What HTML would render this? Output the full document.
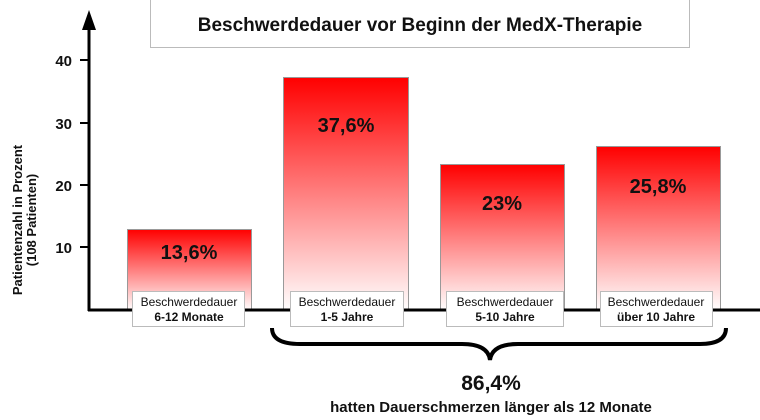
<!DOCTYPE html><html><head><style>body{margin:0;background:#fff}svg{display:block;font-family:"Liberation Sans",Arial,sans-serif}</style></head><body>
<svg width="760" height="420" viewBox="0 0 760 420">
<defs><linearGradient id="g" x1="0" y1="0" x2="0" y2="1"><stop offset="0" stop-color="#f00"/><stop offset="1" stop-color="#fff"/></linearGradient></defs>
<rect x="150.5" y="-1" width="539" height="48.5" fill="#fff" stroke="#bbb"/>
<text x="420" y="31" text-anchor="middle" font-size="19" font-weight="bold" fill="#111">Beschwerdedauer vor Beginn der MedX-Therapie</text>
<g stroke="#999" stroke-width="1">
<rect x="127.5" y="229.5" width="124" height="81" fill="url(#g)"/>
<rect x="283.5" y="77.5" width="125" height="233" fill="url(#g)"/>
<rect x="440.5" y="164.5" width="124" height="146" fill="url(#g)"/>
<rect x="596.5" y="146.5" width="124" height="164" fill="url(#g)"/>
</g>
<g font-size="20" font-weight="bold" fill="#111" text-anchor="middle">
<text x="189" y="259">13,6%</text><text x="346" y="132">37,6%</text><text x="502" y="210">23%</text><text x="658" y="193">25,8%</text>
</g>
<line x1="89" y1="20" x2="89" y2="311" stroke="#000" stroke-width="3"/>
<polygon points="82,30 96,30 89,10" fill="#000"/>
<line x1="88" y1="310" x2="760" y2="310" stroke="#000" stroke-width="3"/>
<g stroke="#000" stroke-width="2"><line x1="80" y1="60" x2="89" y2="60"/><line x1="80" y1="123" x2="89" y2="123"/><line x1="80" y1="185" x2="89" y2="185"/><line x1="80" y1="247" x2="89" y2="247"/></g>
<g font-size="15" font-weight="bold" fill="#111" text-anchor="end">
<text x="72" y="66">40</text><text x="72" y="129">30</text><text x="72" y="191">20</text><text x="72" y="253">10</text></g>
<g transform="translate(22,220) rotate(-90)" font-size="13" font-weight="bold" fill="#111" text-anchor="middle"><text x="0" y="0">Patientenzahl in Prozent</text><text x="0" y="14">(108 Patienten)</text></g>
<g stroke="#bbb" fill="#fff">
<rect x="132.5" y="291.5" width="112" height="35"/><rect x="290.5" y="291.5" width="113" height="35"/><rect x="446.5" y="291.5" width="117" height="35"/><rect x="600.5" y="291.5" width="112" height="35"/></g>
<g font-size="12" fill="#111" text-anchor="middle">
<text x="189" y="306">Beschwerdedauer</text><text x="347" y="306">Beschwerdedauer</text><text x="505" y="306">Beschwerdedauer</text><text x="656" y="306">Beschwerdedauer</text>
<g font-weight="bold"><text x="189" y="321">6-12 Monate</text><text x="347" y="321">1-5 Jahre</text><text x="505" y="321">5-10 Jahre</text><text x="656" y="321">über 10 Jahre</text></g></g>
<path d="M272,328 Q272,344 300,344 L462,344 Q488,344 490,360 Q492,344 518,344 L700,344 Q726,344 726,328" fill="none" stroke="#000" stroke-width="4"/>
<text x="491" y="390" text-anchor="middle" font-size="21" font-weight="bold" fill="#111">86,4%</text>
<text x="491" y="412" text-anchor="middle" font-size="15" font-weight="bold" fill="#111">hatten Dauerschmerzen länger als 12 Monate</text>
</svg></body></html>
